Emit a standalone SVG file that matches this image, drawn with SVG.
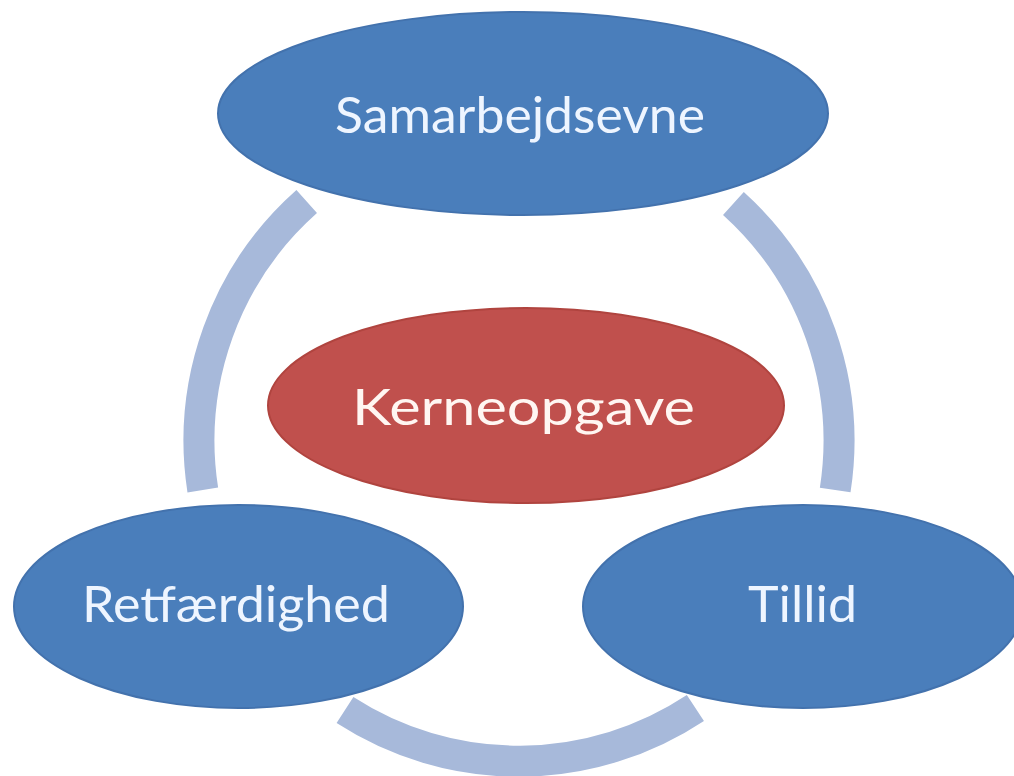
<svg xmlns="http://www.w3.org/2000/svg" width="1014" height="776" viewBox="0 0 1014 776">
  <style>
    .ring { fill: none; stroke: #a7b9da; stroke-width: 31; stroke-linecap: butt; }
    .blue { fill: #4a7ebb; stroke: #4372ad; stroke-width: 2; }
    .red { fill: #c0504d; stroke: #b0443f; stroke-width: 2; }
    .lbl { font-family: Lato, "Open Sans", "Liberation Sans", sans-serif; font-size: 50px; fill: #eef5ff; text-anchor: middle; }
    .lblr { fill: #fff6f2; }
  </style>
  <rect width="1014" height="776" fill="#ffffff"/>
  <g id="connectors">
    <path class="ring" d="M 306.7 201.5 A 320 320 0 0 0 202.8 490"/>
    <path class="ring" d="M 733.4 203.5 A 320 320 0 0 1 835.2 490"/>
    <path class="ring" d="M 345 710 A 320 320 0 0 0 695.4 708"/>
  </g>
  <g id="node-samarbejdsevne">
    <ellipse class="blue" cx="523" cy="113.5" rx="305" ry="101.5"/>
    <text class="lbl" x="520" y="133" textLength="370" lengthAdjust="spacingAndGlyphs">Samarbejdsevne</text>
  </g>
  <g id="node-kerneopgave">
    <ellipse class="red" cx="526" cy="405.5" rx="258" ry="97.5"/>
    <text class="lbl lblr" x="523.5" y="425" textLength="343" lengthAdjust="spacingAndGlyphs">Kerneopgave</text>
  </g>
  <g id="node-retfaerdighed">
    <ellipse class="blue" cx="238.5" cy="606.5" rx="224.5" ry="101.5"/>
    <text class="lbl" x="236" y="622" textLength="308" lengthAdjust="spacingAndGlyphs">Retfærdighed</text>
  </g>
  <g id="node-tillid">
    <ellipse class="blue" cx="803" cy="606.5" rx="220" ry="101.5"/>
    <text class="lbl" x="802.5" y="622" textLength="109" lengthAdjust="spacingAndGlyphs">Tillid</text>
  </g>
</svg>
